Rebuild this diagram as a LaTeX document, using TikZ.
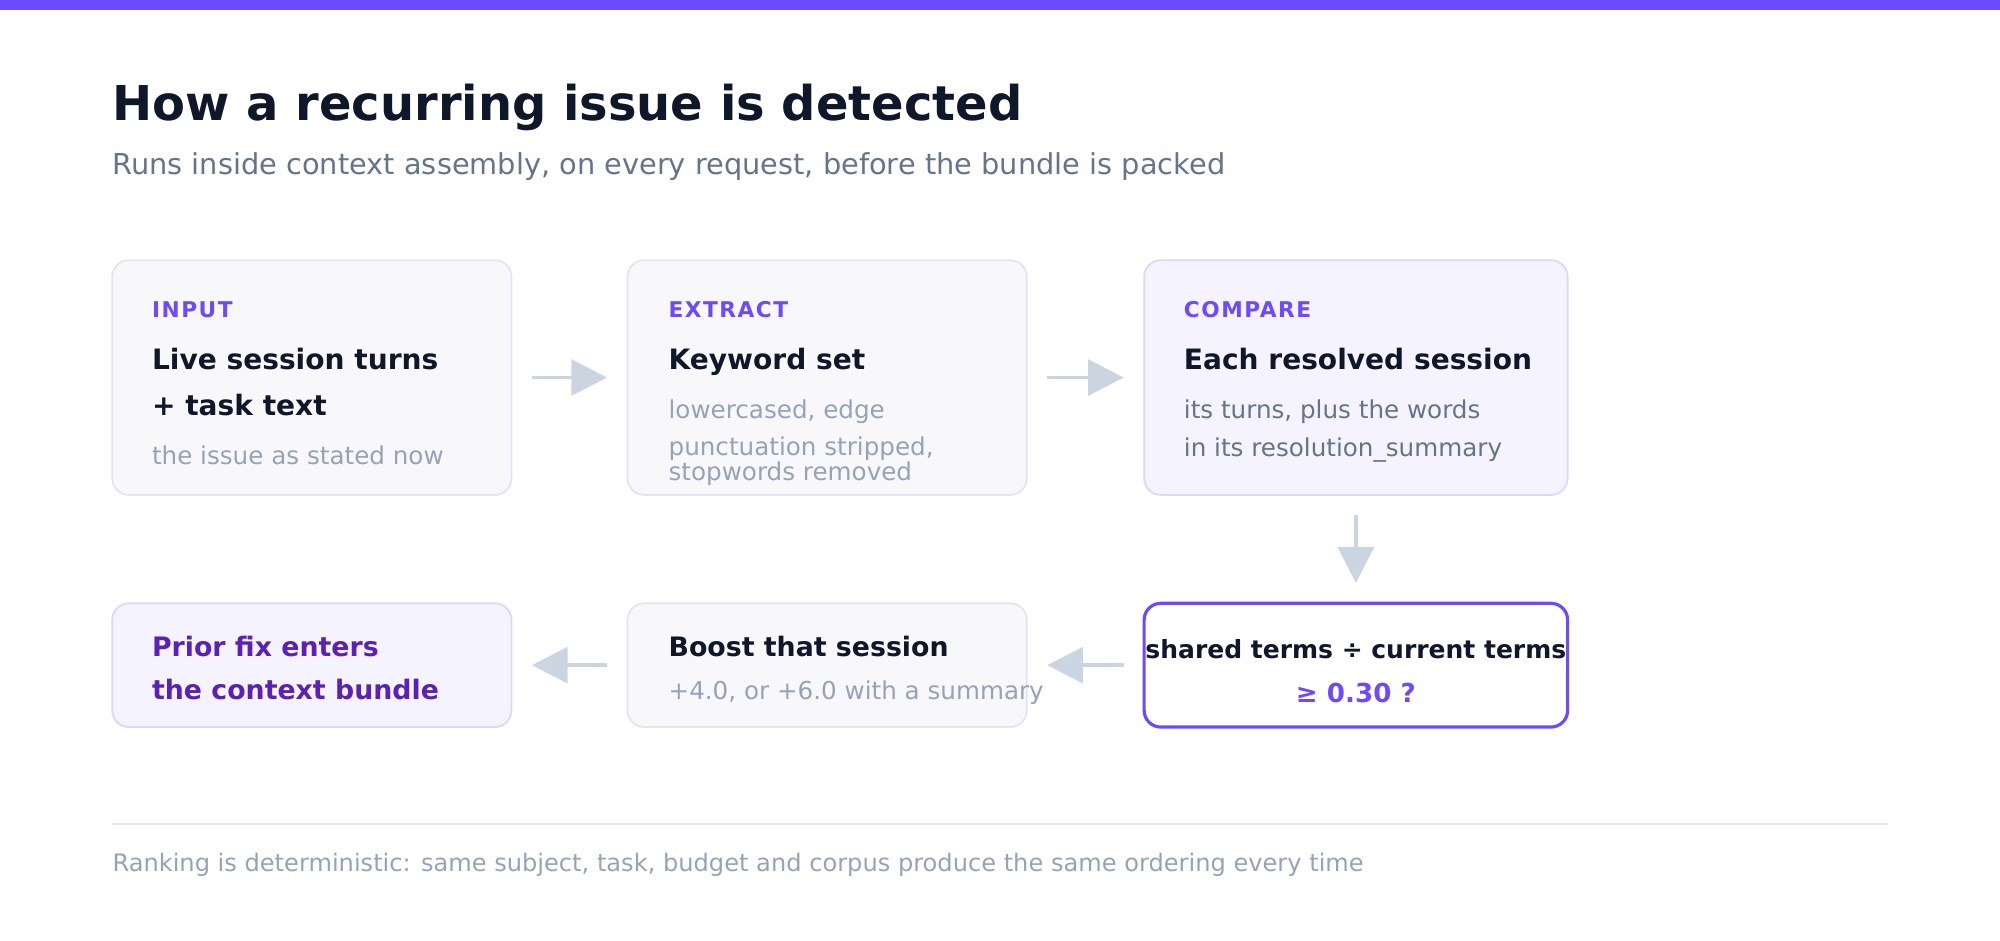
\documentclass[tikz,border=0pt]{standalone}
\usepackage{fontspec}
\setmainfont{DejaVu Sans}
\newfontfamily\tagfont{DejaVu Sans}[LetterSpace=7]
\usetikzlibrary{
	calc,          %计算
	positioning,   %定位
	arrows.meta    %箭头
}
\definecolor{violetbar}{HTML}{6D4AFF}
\definecolor{ink}{HTML}{0F172A}
\definecolor{slate}{HTML}{64748B}
\definecolor{mist}{HTML}{94A3B8}
\definecolor{grayfill}{HTML}{F8F8FB}
\definecolor{grayline}{HTML}{E2E5F0}
\definecolor{lavfill}{HTML}{F5F3FF}
\definecolor{lavline}{HTML}{DDD6FE}
\definecolor{deepviolet}{HTML}{5B21B6}
\definecolor{arrowgray}{HTML}{CBD5E1}
\definecolor{rulegray}{HTML}{E2E8F0}
\tikzstyle{card}=[rectangle,
rounded corners=13pt,
line width=1.4pt,
draw=grayline,
fill=grayfill,
inner sep=0pt,
outer sep=0pt]
\tikzset{
	every picture/.style={
		>=latex,
		node distance=91pt and 91pt
	},
	lavcard/.style={card,draw=lavline,fill=lavfill},
	keycard/.style={card,draw=violetbar,fill=white,line width=2.5pt},
	tag/.style={anchor=base west,inner sep=0pt,text=violetbar,font=\tagfont\bfseries\fontsize{17}{20}\selectfont},
	head/.style={anchor=base west,inner sep=0pt,text=ink,font=\bfseries\fontsize{22}{26}\selectfont},
	lowhead/.style={head,font=\bfseries\fontsize{21}{25}\selectfont},
	note/.style={anchor=base west,inner sep=0pt,text=mist,font=\fontsize{19.3}{23}\selectfont},
	flow/.style={draw=arrowgray,line width=3pt,-{Triangle[length=28pt,width=28pt]},shorten <=16pt,shorten >=16pt}
}
\begin{document}
\begin{tikzpicture}[x=1pt,y=-1pt]
\def\wa{313pt}%窄卡片宽
\def\wb{332pt}%宽卡片宽
\def\ha{184pt}%第一行高
\def\hb{97pt}%第二行高

%画布与顶部色条
\useasboundingbox (0,0) rectangle (1568,737);
\fill[violetbar] (0,0) rectangle (1568,8);

%标题
\node[anchor=base west,inner sep=0pt,text=ink,font=\bfseries\fontsize{37.6}{44}\selectfont] (title) at (88,94.5) {How a recurring issue is detected};
\node[anchor=base west,inner sep=0pt,text=slate,font=\fontsize{22.6}{27}\selectfont] (sub) at (88,137) {Runs inside context assembly, on every request, before the bundle is packed};

%第一行卡片
\node[card,minimum width=\wa,minimum height=\ha] (in) at (244.5,296) {};
\node[card,minimum width=\wa,minimum height=\ha,right=91pt of in] (ex) {};
\node[lavcard,minimum width=\wb,minimum height=\ha,right=92pt of ex] (cmp) {};
%第二行卡片
\node[keycard,minimum width=\wb,minimum height=\hb,below=85pt of cmp] (ratio) {};
\node[card,minimum width=\wa,minimum height=\hb,left=92pt of ratio] (boost) {};
\node[lavcard,minimum width=\wa,minimum height=\hb,left=91pt of boost] (fix) {};

%输入
\node[tag] (in-t) at ([shift={(31,45)}]in.north west) {INPUT};
\node[head] (in-h1) at ([shift={(31,85.5)}]in.north west) {Live session turns};
\node[head] (in-h2) at ([shift={(31,122)}]in.north west) {+ task text};
\node[note] (in-n) at ([shift={(31,160)}]in.north west) {the issue as stated now};

%提取
\node[tag] (ex-t) at ([shift={(32,45)}]ex.north west) {EXTRACT};
\node[head] (ex-h) at ([shift={(32,85.5)}]ex.north west) {Keyword set};
\node[note] (ex-n1) at ([shift={(32,124)}]ex.north west) {lowercased, edge};
\node[note] (ex-n2) at ([shift={(32,153)}]ex.north west) {punctuation stripped,};
\node[note] (ex-n3) at ([shift={(32,172.5)}]ex.north west) {stopwords removed};

%比较
\node[tag] (cmp-t) at ([shift={(31,45)}]cmp.north west) {COMPARE};
\node[head] (cmp-h) at ([shift={(31,85.5)}]cmp.north west) {Each resolved session};
\node[note,text=slate] (cmp-n1) at ([shift={(31,124)}]cmp.north west) {its turns, plus the words};
\node[note,text=slate] (cmp-n2) at ([shift={(31,153.5)}]cmp.north west) {in its resolution\_summary};

%阈值
\node[head,anchor=base,font=\bfseries\fontsize{19.6}{24}\selectfont] (ratio-h) at ([yshift=-43.5pt]ratio.north) {shared terms ÷ current terms};
\node[head,anchor=base,text=violetbar,font=\bfseries\fontsize{20.5}{24}\selectfont] (ratio-v) at ([yshift=-77.5pt]ratio.north) {≥ 0.30 ?};

%加分
\node[lowhead] (boost-h) at ([shift={(32,41.5)}]boost.north west) {Boost that session};
\node[note] (boost-n) at ([shift={(32,75.5)}]boost.north west) {+4.0, or +6.0 with a summary};

%结果
\node[lowhead,text=deepviolet] (fix-h1) at ([shift={(31,41.5)}]fix.north west) {Prior fix enters};
\node[lowhead,text=deepviolet] (fix-h2) at ([shift={(31,75.5)}]fix.north west) {the context bundle};

%箭头
\foreach \a/\b in {in/ex,ex/cmp,cmp/ratio,ratio/boost,boost/fix}
\draw[flow] (\a) -- (\b);

%底部
\coordinate (r1) at (88,646);
\coordinate (r2) at (1480,646);
\draw[rulegray,line width=1.4pt] (r1) -- (r2);
\node[note,font=\fontsize{18.9}{22}\selectfont] (foot) at (88,683) {Ranking is deterministic: same subject, task, budget and corpus produce the same ordering every time};

\end{tikzpicture}
\end{document}
